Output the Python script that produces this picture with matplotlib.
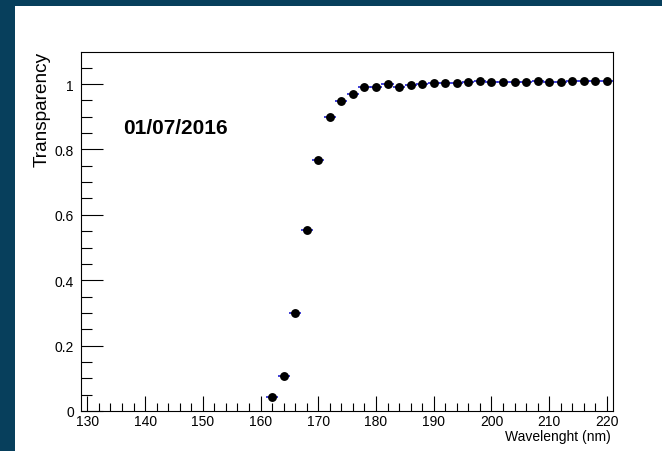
import numpy as np
import matplotlib
matplotlib.use('Agg')
import matplotlib.pyplot as plt
from matplotlib.patches import Rectangle
from matplotlib.ticker import MultipleLocator, FuncFormatter

plt.rcParams['font.family'] = ['Liberation Sans', 'DejaVu Sans']

# measured points (wavelength in nm, transparency)
wavelength = [162, 164, 166, 168, 170, 172, 174, 176, 178, 180, 182, 184, 186, 188,
              190, 192, 194, 196, 198, 200, 202, 204, 206, 208, 210, 212, 214, 216, 218, 220]
transparency = [0.043, 0.106, 0.299, 0.553, 0.768, 0.900, 0.949, 0.970, 0.991, 0.991,
                0.999, 0.991, 0.997, 1.000, 1.003, 1.003, 1.003, 1.006, 1.008, 1.005,
                1.005, 1.005, 1.005, 1.008, 1.005, 1.005, 1.008, 1.008, 1.008, 1.008]
x_err = [1.05] * len(wavelength)
date_label = '01/07/2016'

W, H = 662, 452
fig = plt.figure(figsize=(W / 100, H / 100), dpi=100, facecolor='#073f5c')

# white canvas of the ROOT window
fig.add_artist(Rectangle((15 / W, 0), 1 - 15 / W, 1 - 7 / H,
                         transform=fig.transFigure, facecolor='white',
                         edgecolor='none', zorder=-10))

ax = fig.add_axes([81 / W, 1 - 412 / H, (613 - 81) / W, (412 - 53) / H])
ax.set_facecolor('white')

ax.errorbar(wavelength, transparency, xerr=x_err, fmt='none', ecolor='#3030d0',
            elinewidth=1.3, capsize=0, zorder=2)
ax.plot(wavelength, transparency, 'o', color='black', markersize=6.4,
        markeredgewidth=0, zorder=3)

ax.set_xlim(128.9, 221.05)
ax.set_ylim(0, 1.098)

ax.xaxis.set_major_locator(MultipleLocator(10))
ax.xaxis.set_minor_locator(MultipleLocator(2))
ax.yaxis.set_major_locator(MultipleLocator(0.2))
ax.yaxis.set_minor_locator(MultipleLocator(0.05))
ax.yaxis.set_major_formatter(FuncFormatter(lambda v, p: '%g' % round(v, 3)))

ax.tick_params(axis='x', which='major', direction='in', length=11, width=0.8,
               labelsize=10, pad=2, top=False)
ax.tick_params(axis='x', which='minor', direction='in', length=5.5, width=0.8, top=False)
ax.tick_params(axis='y', which='major', direction='in', length=16, width=0.8,
               labelsize=10, pad=5, right=False)
ax.tick_params(axis='y', which='minor', direction='in', length=8, width=0.8, right=False)

for s in ax.spines.values():
    s.set_linewidth(0.8)
    s.set_color('black')

ax.text(136.2, 0.868, date_label, fontsize=15, fontweight='bold', ha='left', va='center')

fig.text(41.7 / W, 1 - 109 / H, 'Transparency', rotation=90, fontsize=13.7,
         ha='center', va='center')
fig.text(611 / W, 1 - 437 / H, 'Wavelenght (nm)', fontsize=10, ha='right', va='center')

fig.savefig('out.png', dpi=100, facecolor=fig.get_facecolor())
